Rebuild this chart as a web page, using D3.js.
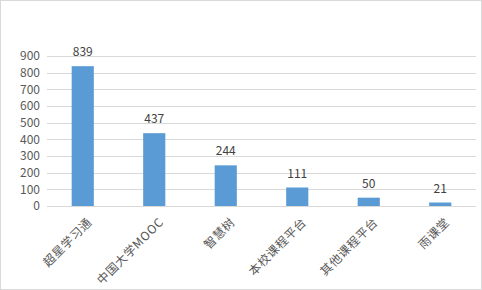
<!DOCTYPE html>
<html><head><meta charset="utf-8">
<script src="https://cdn.jsdelivr.net/npm/d3@7"></script>
<style>body{margin:0;background:#fff;}svg{display:block;}</style>
</head><body>
<script>
const categories = ["超星学习通","中国大学MOOC","智慧树","本校课程平台","其他课程平台","雨课堂"];
const values = [839,437,244,111,50,21];
const yTicks = [0,100,200,300,400,500,600,700,800,900];

const W=482,H=290;
const svg=d3.select("body").append("svg").attr("width",W).attr("height",H);
svg.append("rect").attr("x",0.5).attr("y",0.5).attr("width",W-1).attr("height",H-1).attr("fill","#fff").attr("stroke","#d9d9d9");
const font="'Noto Sans CJK SC','Liberation Sans',sans-serif";
const x=d3.scaleBand().domain(categories).range([47,476]).paddingInner(0.69).paddingOuter(0.345);
const y=d3.scaleLinear().domain([0,900]).range([206,56]);

const g=svg.append("g");
g.selectAll("line.grid").data(yTicks).join("line").attr("class","grid")
 .attr("x1",47).attr("x2",476).attr("y1",d=>Math.round(y(d))+0.5).attr("y2",d=>Math.round(y(d))+0.5)
 .attr("stroke","#d9d9d9").attr("stroke-width",1);
g.selectAll("text.yt").data(yTicks).join("text").attr("class","yt")
 .attr("x",40).attr("y",d=>y(d)).attr("dy","0.35em").attr("text-anchor","end")
 .attr("font-family",font).attr("font-size",12).attr("fill","#595959").text(d=>d);

g.selectAll("rect.bar").data(values).join("rect").attr("class","bar")
 .attr("x",(d,i)=>x(categories[i])).attr("width",x.bandwidth())
 .attr("y",d=>y(d)).attr("height",d=>y(0)-y(d)).attr("fill","#5b9bd5");

g.selectAll("text.val").data(values).join("text").attr("class","val")
 .attr("x",(d,i)=>x(categories[i])+x.bandwidth()/2).attr("y",d=>y(d)-10)
 .attr("text-anchor","middle").attr("font-family",font).attr("font-size",12).attr("fill","#404040").text(d=>d);

g.selectAll("text.cat").data(categories).join("text").attr("class","cat")
 .attr("transform",d=>`translate(${x(d)+x.bandwidth()/2+7},${220}) rotate(-45)`)
 .attr("text-anchor","end").attr("dy","0.35em").attr("letter-spacing","0.6px")
 .attr("font-family",font).attr("font-size",12).attr("fill","#595959").text(d=>d);
</script>
</body></html>
